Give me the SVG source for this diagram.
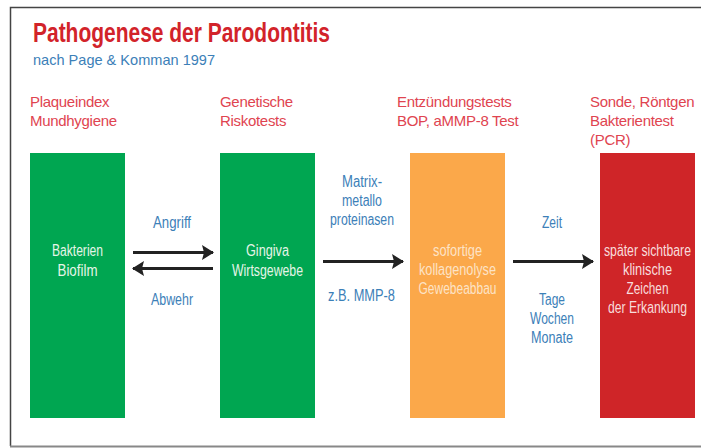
<svg xmlns="http://www.w3.org/2000/svg" width="701" height="448" viewBox="0 0 701 448">
<defs>
<style>
.t{font-family:"Liberation Sans",Arial,sans-serif}
.title{font-size:27px;font-weight:bold;fill:#d2232a}
.sub{font-family:"Liberation Sans",Arial,sans-serif;font-size:15px;fill:#3c80b8}
.hd{font-family:"Liberation Sans",Arial,sans-serif;font-size:15px;fill:#e04450;letter-spacing:-0.3px}
.in{font-size:16px;text-anchor:middle}
.lb{font-size:16px;fill:#3c80b8;text-anchor:middle}
.arr{stroke:#222;stroke-width:3;fill:none}
</style>
<marker id="ah" viewBox="0 0 12 15" refX="11" refY="7.5" markerWidth="12" markerHeight="15" markerUnits="userSpaceOnUse" orient="auto">
<path d="M0,0 L12,7.5 L0,15 L2,7.5 Z" fill="#222"/>
</marker>
</defs>
<rect x="0" y="0" width="701" height="448" fill="#fff"/>
<path d="M10.5,446 V7.5 H701" fill="none" stroke="#444" stroke-width="1.5"/>
<path d="M10,446.5 H701" stroke="#888" stroke-width="2"/>
<text class="t title" x="33" y="42" textLength="297" lengthAdjust="spacingAndGlyphs">Pathogenese der Parodontitis</text>
<text class="sub" x="33" y="65" textLength="182" lengthAdjust="spacingAndGlyphs">nach Page &amp; Komman 1997</text>
<text class="hd" x="30" y="107">Plaqueindex</text>
<text class="hd" x="30" y="126">Mundhygiene</text>
<text class="hd" x="220" y="107">Genetische</text>
<text class="hd" x="220" y="126">Riskotests</text>
<text class="hd" x="397" y="107">Entzündungstests</text>
<text class="hd" x="397" y="126">BOP, aMMP-8 Test</text>
<text class="hd" x="590" y="107">Sonde, Röntgen</text>
<text class="hd" x="590" y="126">Bakterientest</text>
<text class="hd" x="590" y="145">(PCR)</text>
<g id="n1">
<rect x="30" y="153" width="95" height="265" fill="#00a651"/>
<text class="t in" x="77.5" y="256" fill="#e6f5e8" textLength="51" lengthAdjust="spacingAndGlyphs">Bakterien</text>
<text class="t in" x="77.5" y="276" fill="#e6f5e8" textLength="40" lengthAdjust="spacingAndGlyphs">Biofilm</text>
</g>
<g id="n2">
<rect x="220" y="153" width="95" height="265" fill="#00a651"/>
<text class="t in" x="267.5" y="256" fill="#e6f5e8" textLength="43" lengthAdjust="spacingAndGlyphs">Gingiva</text>
<text class="t in" x="267.5" y="276" fill="#e6f5e8" textLength="71" lengthAdjust="spacingAndGlyphs">Wirtsgewebe</text>
</g>
<g id="n3">
<rect x="410" y="153" width="95" height="265" fill="#fba84a"/>
<text class="t in" x="457.5" y="256" fill="#fde3c6" textLength="49" lengthAdjust="spacingAndGlyphs">sofortige</text>
<text class="t in" x="457.5" y="275" fill="#fde3c6" textLength="77" lengthAdjust="spacingAndGlyphs">kollagenolyse</text>
<text class="t in" x="457.5" y="294" fill="#fde3c6" textLength="78" lengthAdjust="spacingAndGlyphs">Gewebeabbau</text>
</g>
<g id="n4">
<rect x="600" y="153" width="95" height="265" fill="#cf2528"/>
<text class="t in" x="647.5" y="256" fill="#f8dcdc" textLength="87" lengthAdjust="spacingAndGlyphs">später sichtbare</text>
<text class="t in" x="647.5" y="275" fill="#f8dcdc" textLength="49" lengthAdjust="spacingAndGlyphs">klinische</text>
<text class="t in" x="647.5" y="294" fill="#f8dcdc" textLength="42" lengthAdjust="spacingAndGlyphs">Zeichen</text>
<text class="t in" x="647.5" y="313" fill="#f8dcdc" textLength="79" lengthAdjust="spacingAndGlyphs">der Erkankung</text>
</g>
<g id="connectors">
<line class="arr" x1="133" y1="252.5" x2="213" y2="252.5" marker-end="url(#ah)"/>
<line class="arr" x1="213" y1="268.5" x2="133" y2="268.5" marker-end="url(#ah)"/>
<line class="arr" x1="323" y1="261.5" x2="403" y2="261.5" marker-end="url(#ah)"/>
<line class="arr" x1="513" y1="261.5" x2="593" y2="261.5" marker-end="url(#ah)"/>
<text class="t lb" x="172" y="228" textLength="38" lengthAdjust="spacingAndGlyphs">Angriff</text>
<text class="t lb" x="172" y="305" textLength="42" lengthAdjust="spacingAndGlyphs">Abwehr</text>
<text class="t lb" x="362" y="187" textLength="40" lengthAdjust="spacingAndGlyphs">Matrix-</text>
<text class="t lb" x="362" y="206" textLength="40" lengthAdjust="spacingAndGlyphs">metallo</text>
<text class="t lb" x="362" y="225" textLength="64" lengthAdjust="spacingAndGlyphs">proteinasen</text>
<text class="t lb" x="361.5" y="301" textLength="67" lengthAdjust="spacingAndGlyphs">z.B. MMP-8</text>
<text class="t lb" x="552" y="228" textLength="20" lengthAdjust="spacingAndGlyphs">Zeit</text>
<text class="t lb" x="552" y="305" textLength="26" lengthAdjust="spacingAndGlyphs">Tage</text>
<text class="t lb" x="552" y="324" textLength="44" lengthAdjust="spacingAndGlyphs">Wochen</text>
<text class="t lb" x="552" y="343" textLength="42" lengthAdjust="spacingAndGlyphs">Monate</text>
</g>
</svg>
